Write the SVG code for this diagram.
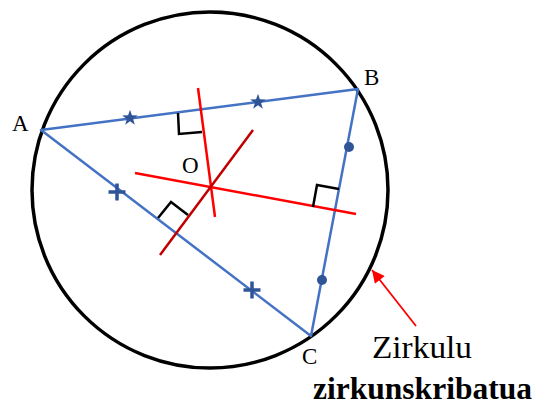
<svg xmlns="http://www.w3.org/2000/svg" width="534" height="405" viewBox="0 0 534 405">
  <defs>
    <style>
      .side { stroke: #4472C4; stroke-width: 2.5; fill: none; stroke-linecap: round; }
      .bis { stroke: #FF0000; stroke-width: 2.5; fill: none; }
      .bis2 { stroke: #C00000; stroke-width: 2.5; fill: none; }
      .ra { stroke: #000; stroke-width: 2.5; fill: none; }
      .mk { fill: #2F5597; }
      .cross { stroke: #2F5597; stroke-width: 3.5; }
      .lbl { font-family: "Liberation Serif", "DejaVu Serif", serif; font-size: 23px; fill: #000; }
    </style>
    <polygon id="star" points="0,-8.2 1.9,-2.65 7.8,-2.53 3.1,1.0 4.82,6.63 0,3.3 -4.82,6.63 -3.1,1.0 -7.8,-2.53 -1.9,-2.65"/>
    <g id="plus"><line x1="-8.5" y1="0" x2="8.5" y2="0"/><line x1="0" y1="-8.5" x2="0" y2="8.5"/></g>
    <marker id="ah" viewBox="0 0 10 10" refX="10" refY="5" markerWidth="8" markerHeight="7" orient="auto" markerUnits="strokeWidth">
      <path d="M0,0 L10,5 L0,10 Z" fill="#FF0000"/>
    </marker>
  </defs>
  <rect width="534" height="405" fill="#fff"/>

  <g id="circle">
    <circle cx="210" cy="190" r="178" fill="none" stroke="#000" stroke-width="3.5"/>
  </g>

  <g id="triangle">
    <polygon class="side" points="41,130 358,89 311,336" stroke-linejoin="round"/>
  </g>

  <g id="bisectors">
    <line class="bis" x1="198" y1="88" x2="215" y2="217"/>
    <line class="bis" x1="135" y1="173" x2="356" y2="214"/>
    <line class="bis2" x1="253" y1="130" x2="160" y2="255"/>
  </g>

  <g id="right-angles">
    <path class="ra" d="M178,113 L179,134 L202,132"/>
    <path class="ra" d="M313,207 L317,185 L339,189"/>
    <path class="ra" d="M158,218 L171,202 L188,215"/>
  </g>

  <g id="equal-marks">
    <use href="#star" class="mk" x="130" y="118"/>
    <use href="#star" class="mk" x="258" y="102"/>
    <use href="#plus" class="cross" x="117" y="192"/>
    <use href="#plus" class="cross" x="252" y="290"/>
    <circle class="mk" cx="349" cy="147" r="5"/>
    <circle class="mk" cx="322" cy="280" r="5"/>
  </g>

  <g id="connectors">
    <line x1="416" y1="326" x2="372" y2="270" stroke="#FF0000" stroke-width="1.8" marker-end="url(#ah)"/>
  </g>

  <g id="labels">
    <text class="lbl" x="12" y="131">A</text>
    <text class="lbl" x="364" y="85">B</text>
    <text class="lbl" x="302" y="364">C</text>
    <text class="lbl" x="182" y="173">O</text>
    <text x="372" y="358" font-family="Liberation Serif, DejaVu Serif, serif" font-size="31" textLength="100" lengthAdjust="spacingAndGlyphs">Zirkulu</text>
    <text x="313" y="399" font-family="Liberation Serif, DejaVu Serif, serif" font-size="31" font-weight="bold" textLength="219" lengthAdjust="spacingAndGlyphs">zirkunskribatua</text>
  </g>
</svg>
